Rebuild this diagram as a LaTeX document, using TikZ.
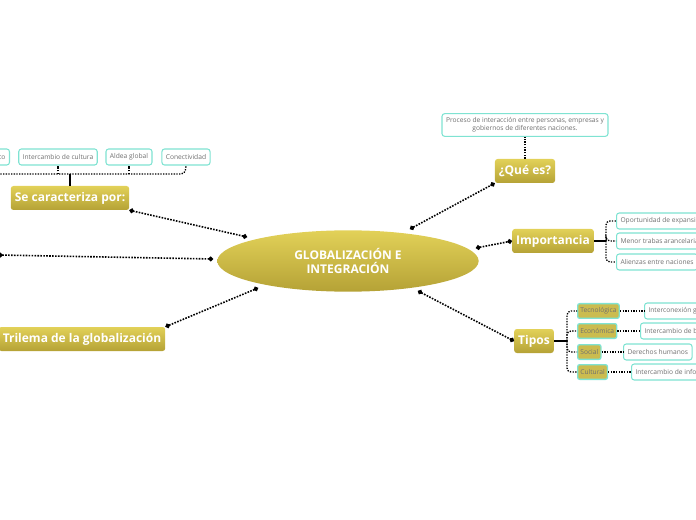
\documentclass[tikz,border=0pt]{standalone}
\usepackage{fontspec}
\setmainfont{Open Sans}
\usetikzlibrary{arrows.meta}
\usetikzlibrary{shapes.geometric}
\usetikzlibrary{positioning}
\definecolor{goldtop}{HTML}{E2D158}
\definecolor{goldbot}{HTML}{B5A236}
\definecolor{leafline}{HTML}{7FE3D2}
\definecolor{leaftext}{HTML}{707070}

\begin{document}
\begin{tikzpicture}[x=0.75pt, y=-0.75pt,
        main_style/.style={ellipse, minimum width=196pt, minimum height=46pt, top color=goldtop, bottom color=goldbot, text=white, font=\bfseries\small, align=center, inner sep=0pt},
        topic_style/.style={rectangle, rounded corners=2pt, top color=goldtop, bottom color=goldbot, text=white, font=\bfseries\small, minimum height=18pt, inner sep=3pt},
        type_style/.style={rectangle, rounded corners=1.5pt, fill=goldtop!90!black, draw=leafline, line width=1pt, text=leaftext, font=\fontsize{5}{6}\selectfont, minimum height=11pt, inner sep=2pt},
        leaf_style/.style={rectangle, rounded corners=2pt, fill=white, draw=leafline, line width=0.8pt, text=leaftext, font=\fontsize{5}{6}\selectfont, minimum height=12pt, inner sep=3pt, align=center},
        link_style/.style={densely dotted, line width=1.2pt, {Circle[length=3.5pt]}-{Circle[length=3.5pt]}},
        tree_style/.style={densely dotted, line width=1pt, rounded corners=3pt}]
        \useasboundingbox (0,0) rectangle (696,520);
        \clip (0,0) rectangle (696,520);

        \node [main_style](n0) at (348,261) {GLOBALIZACIÓN E\\INTEGRACIÓN};

        \node [topic_style](n1) at (525,171) {¿Qué es?};
        \node [leaf_style](n1a) at (525,125) {Proceso de interacción entre personas, empresas y\\gobiernos de diferentes naciones.};

        \node [topic_style](n2) at (553,241) {Importancia};
        \node [leaf_style, anchor=west](n2a) at (616,221) {Oportunidad de expansión};
        \node [leaf_style, anchor=west](n2b) at (616,241) {Menor trabas arancelarias};
        \node [leaf_style, anchor=west](n2c) at (616,262) {Alienzas entre naciones};

        \node [topic_style](n3) at (534,341) {Tipos};
        \node [type_style, anchor=west](n3a) at (577,311) {Tecnológica};
        \node [type_style, anchor=west](n3b) at (577,331) {Económica};
        \node [type_style, anchor=west](n3c) at (577,352) {Social};
        \node [type_style, anchor=west](n3d) at (577,372) {Cultural};
        \node [leaf_style, anchor=west](n3e) at (644,311) {Interconexión global};
        \node [leaf_style, anchor=west](n3f) at (640,331) {Intercambio de bienes};
        \node [leaf_style, anchor=west](n3g) at (623,352) {Derechos humanos};
        \node [leaf_style, anchor=west](n3h) at (631,372) {Intercambio de información};

        \node [topic_style](n4) at (70,198) {Se caracteriza por:};
        \node [leaf_style, anchor=east](n4a) at (10,157) {Crecimiento económico};
        \node [leaf_style](n4b) at (58,157) {Intercambio de cultura};
        \node [leaf_style](n4c) at (129,157) {Aldea global};
        \node [leaf_style](n4d) at (186,157) {Conectividad};

        \node [topic_style](n5) at (82,339) {Trilema de la globalización};
        \coordinate (n6) at (-2,255);

        % main links
        \draw [link_style] (410,229) -- (n1.south west);
        \draw [link_style] (476,248) -- (n2.west);
        \draw [link_style] (418,291) -- (n3.west);
        \draw [link_style] (247,237) -- (n4.south east);
        \draw [link_style] (258,288) -- (n5.north east);
        \draw [link_style] (213,259) -- (n6);

        % sub trees
        \draw [tree_style] (n1.north) -- (n1a.south);
        \draw [line width=1pt] (n2.east) -- (606,241);
        \foreach \c in {n2a,n2b,n2c} \draw [tree_style] (606,241) |- (\c.west);
        \draw [line width=1pt] (n3.east) -- (567,341);
        \foreach \c in {n3a,n3b,n3c,n3d} \draw [tree_style] (567,341) |- (\c.west);
        \draw [tree_style] (n3a.east) -- (n3e.west);
        \draw [tree_style] (n3b.east) -- (n3f.west);
        \draw [tree_style] (n3c.east) -- (n3g.west);
        \draw [tree_style] (n3d.east) -- (n3h.west);
        \draw [line width=1pt] (n4.north) -- (70,174);
        \draw [tree_style] (-5,174) -- (185,174) -- (n4d.south);
        \draw [tree_style] (58,174) -- (n4b.south);
        \draw [tree_style] (129,174) -- (n4c.south);
        \end{tikzpicture}
\end{document}
